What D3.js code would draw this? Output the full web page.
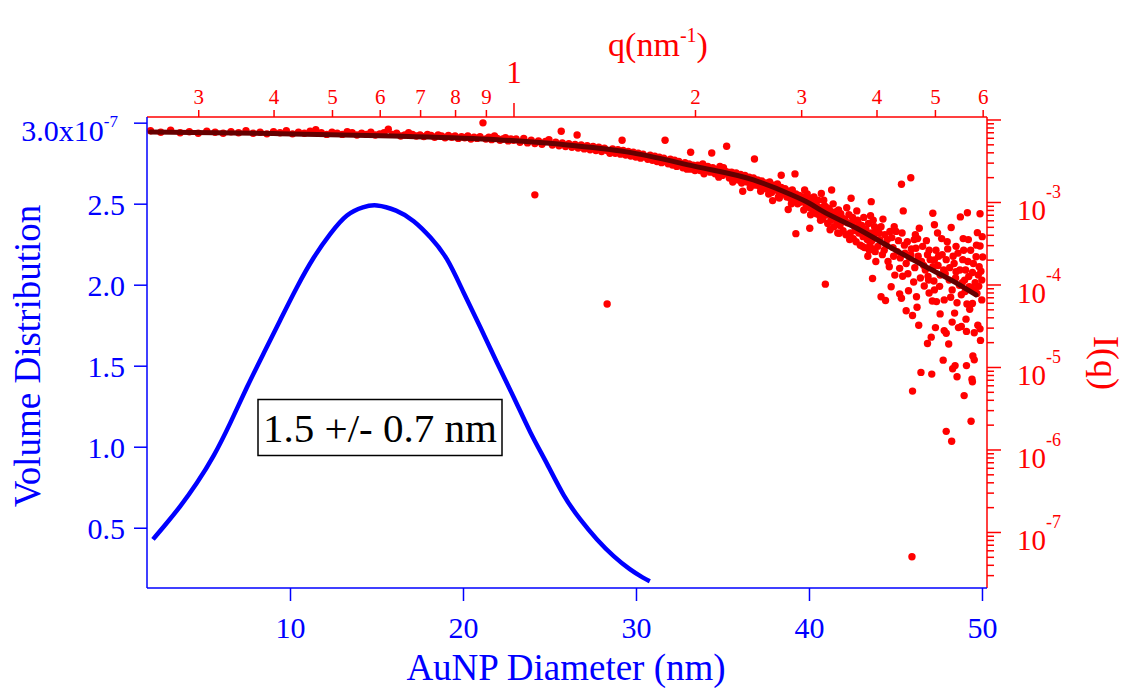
<!DOCTYPE html>
<html>
<head>
<meta charset="utf-8">
<script src="https://cdn.jsdelivr.net/npm/d3@7"></script>
<style>
  body { margin: 0; background: #fff; }
  svg { display: block; font-family: "Liberation Serif", "Times New Roman", serif; }
</style>
</head>
<body>
<svg id="chart"></svg>
<script>
// Size distribution (bottom / left axes)
const diameter = [2.08, 2.70, 3.66, 4.62, 5.59, 6.55, 7.51, 8.48, 9.44, 10.40, 11.37, 12.33, 13.29, 14.26, 14.93,
    16.18, 17.15, 18.11, 19.08, 20.04, 21.0, 21.97, 22.93, 23.89, 24.86, 25.82, 26.78, 27.75, 28.71, 29.67, 30.45, 30.8];
const volume = [0.428e-7, 0.506e-7, 0.630e-7, 0.774e-7, 0.938e-7, 1.144e-7, 1.370e-7, 1.577e-7, 1.782e-7, 1.988e-7,
    2.173e-7, 2.317e-7, 2.441e-7, 2.481e-7, 2.498e-7, 2.461e-7, 2.399e-7, 2.296e-7, 2.173e-7, 1.947e-7, 1.741e-7,
    1.515e-7, 1.309e-7, 1.083e-7, 0.898e-7, 0.691e-7, 0.548e-7, 0.424e-7, 0.321e-7, 0.239e-7, 0.188e-7, 0.17e-7];

// Scattering data I(q) (top / right axes), [q in nm^-1, I]
const sasData = [
  [0.25,7.3e-3],[0.26,7.0e-3],[0.27,7.4e-3],[0.28,6.9e-3],[0.29,7.1e-3],[0.30,6.8e-3],[0.31,7.2e-3],[0.32,7.0e-3],[0.33,6.8e-3],[0.34,7.1e-3],
  [0.35,6.9e-3],[0.36,7.3e-3],[0.37,6.8e-3],[0.38,7.0e-3],[0.39,6.7e-3],[0.40,7.1e-3],[0.41,6.9e-3],[0.42,7.3e-3],[0.43,6.7e-3],[0.44,7.0e-3],
  [0.45,6.8e-3],[0.46,7.2e-3],[0.47,7.5e-3],[0.48,6.9e-3],[0.49,6.6e-3],[0.50,7.0e-3],[0.51,6.8e-3],[0.52,6.6e-3],[0.53,7.1e-3],[0.54,6.9e-3],
  [0.55,6.5e-3],[0.56,6.8e-3],[0.57,6.6e-3],[0.58,7.0e-3],[0.59,6.5e-3],[0.60,6.7e-3],[0.61,6.9e-3],[0.62,7.6e-3],[0.63,6.6e-3],[0.64,6.8e-3],
  [0.65,6.3e-3],[0.66,6.5e-3],[0.67,6.9e-3],[0.68,6.6e-3],[0.69,6.3e-3],[0.70,6.5e-3],[0.71,6.2e-3],[0.72,6.6e-3],[0.73,6.4e-3],[0.74,6.1e-3],
  [0.75,6.5e-3],[0.76,6.3e-3],[0.77,6.0e-3],[0.78,6.4e-3],[0.79,6.1e-3],[0.80,6.3e-3],[0.81,5.9e-3],[0.82,6.2e-3],[0.83,6.0e-3],[0.84,6.3e-3],
  [0.85,5.8e-3],[0.86,6.1e-3],[0.87,5.9e-3],[0.88,6.2e-3],[0.89,9.1e-3],[0.90,5.8e-3],[0.91,6.1e-3],[0.92,5.7e-3],[0.93,6.3e-3],[0.94,5.9e-3],
  [0.95,5.6e-3],[0.96,5.8e-3],[0.97,6.0e-3],[0.98,5.5e-3],[0.99,5.8e-3],[1.00,5.6e-3],
  [1.01,5.8e-3],[1.025,5.3e-3],[1.04,5.9e-3],[1.055,5.2e-3],[1.07,5.6e-3],[1.085,5.1e-3],[1.085,1.22e-3],[1.10,5.5e-3],[1.115,5.0e-3],[1.13,5.4e-3],
  [1.145,5.7e-3],[1.16,4.9e-3],[1.175,5.3e-3],[1.19,4.8e-3],[1.20,7.2e-3],[1.205,5.2e-3],[1.22,4.7e-3],[1.235,5.1e-3],[1.25,4.6e-3],[1.265,5.0e-3],
  [1.275,6.5e-3],[1.28,4.5e-3],[1.295,4.9e-3],[1.31,4.4e-3],[1.325,4.8e-3],[1.34,4.3e-3],[1.355,4.7e-3],[1.37,4.2e-3],[1.385,4.6e-3],[1.40,4.1e-3],
  [1.415,4.5e-3],[1.43,5.8e-5],[1.43,4.2e-3],[1.445,3.9e-3],[1.46,4.4e-3],[1.475,3.9e-3],[1.49,4.3e-3],[1.505,3.8e-3],[1.514,5.6e-3],[1.52,4.2e-3],
  [1.535,3.7e-3],[1.55,4.1e-3],[1.565,3.6e-3],[1.58,4.0e-3],[1.595,3.5e-3],[1.61,3.9e-3],[1.625,3.4e-3],[1.64,3.8e-3],[1.655,3.5e-3],[1.67,3.3e-3],
  [1.685,3.7e-3],[1.70,3.2e-3],[1.715,3.6e-3],[1.73,3.1e-3],[1.745,3.5e-3],[1.76,3.0e-3],[1.775,3.4e-3],[1.784,5.6e-3],[1.79,3.1e-3],[1.805,2.9e-3],
  [1.82,3.3e-3],[1.835,2.8e-3],[1.85,3.2e-3],[1.865,2.7e-3],[1.88,3.1e-3],[1.895,2.8e-3],[1.91,2.6e-3],[1.925,3.0e-3],[1.94,2.5e-3],[1.955,2.9e-3],
  [1.967,4.0e-3],[1.97,2.5e-3],[1.985,2.8e-3],[2.00,2.4e-3],
  [2.02,2.8e-3],[2.04,2.4e-3],[2.06,2.9e-3],[2.08,2.5e-3],[2.10,2.7e-3],[2.12,2.3e-3],[2.132,3.93e-3],[2.14,2.6e-3],[2.16,2.2e-3],[2.18,2.5e-3],
  [2.20,2.7e-3],[2.22,2.1e-3],[2.24,2.4e-3],[2.257,4.73e-3],[2.26,2.2e-3],[2.28,1.95e-3],[2.30,2.3e-3],[2.32,2.0e-3],[2.34,2.25e-3],[2.36,1.85e-3],
  [2.38,2.15e-3],[2.40,1.35e-3],[2.40,1.9e-3],[2.42,2.1e-3],[2.44,1.75e-3],[2.46,2.0e-3],[2.48,1.7e-3],[2.50,1.95e-3],[2.51,3.32e-3],[2.52,1.6e-3],
  [2.54,1.85e-3],[2.56,1.55e-3],[2.58,1.8e-3],[2.60,1.45e-3],[2.62,1.7e-3],[2.64,1.5e-3],[2.66,1.75e-3],[2.68,1.3e-3],[2.69,1.04e-3],[2.70,1.6e-3],
  [2.72,1.4e-3],[2.74,1.65e-3],[2.76,1.12e-3],[2.76,1.3e-3],[2.78,2.11e-3],[2.78,1.5e-3],[2.80,1.25e-3],[2.82,1.45e-3],[2.84,1.15e-3],[2.855,8.1e-4],
  [2.86,1.35e-3],[2.88,1.1e-3],[2.90,1.4e-3],[2.92,1.05e-3],[2.93,2.19e-3],[2.94,4.13e-4],[2.94,1.25e-3],[2.96,9.5e-4],[2.98,1.2e-3],[3.00,1.0e-3],
  [2.03,2.55e-3],[2.07,2.2e-3],[2.11,2.55e-3],[2.15,2.35e-3],[2.19,2.0e-3],[2.23,2.6e-3],[2.27,2.3e-3],[2.31,1.75e-3],[2.35,2.05e-3],[2.39,1.7e-3],
  [2.43,1.9e-3],[2.47,1.5e-3],[2.53,1.75e-3],[2.57,1.35e-3],[2.61,1.55e-3],[2.65,1.25e-3],[2.71,1.45e-3],[2.75,1.15e-3],[2.83,1.3e-3],[2.89,9.5e-4],
  [2.97,1.1e-3],
  [3.02,1.15e-3],[3.04,1.40e-3],[3.06,9.0e-4],[3.08,1.05e-3],[3.10,4.8e-4],[3.10,8.5e-4],[3.12,1.1e-3],[3.14,8.0e-4],[3.16,9.5e-4],[3.18,7.2e-4],
  [3.20,1.05e-3],[3.22,6.8e-4],[3.24,1.27e-3],[3.24,8.5e-4],[3.26,6.2e-4],[3.28,9.0e-4],[3.29,1.01e-4],[3.30,7.0e-4],[3.32,5.5e-4],[3.34,8.2e-4],
  [3.36,6.0e-4],[3.37,1.40e-3],[3.38,7.5e-4],[3.40,5.0e-4],[3.42,6.8e-4],[3.44,5.8e-4],[3.46,8.0e-4],[3.47,4.17e-4],[3.48,5.2e-4],[3.50,6.5e-4],
  [3.52,4.5e-4],[3.54,6.2e-4],[3.56,4.0e-4],[3.58,5.6e-4],[3.60,7.0e-4],[3.62,4.2e-4],[3.63,1.11e-3],[3.64,5.5e-4],[3.66,3.6e-4],[3.68,5.0e-4],
  [3.70,3.3e-4],[3.72,6.0e-4],[3.74,4.2e-4],[3.76,3.0e-4],[3.78,5.2e-4],[3.80,3.8e-4],[3.82,2.8e-4],[3.84,4.7e-4],[3.86,3.5e-4],[3.87,2.2e-4],
  [3.88,5.5e-4],[3.90,3.0e-4],[3.92,1.01e-3],[3.92,4.2e-4],[3.94,1.18e-4],[3.94,2.7e-4],[3.95,6.0e-4],[3.96,3.8e-4],[3.98,2.5e-4],[4.00,4.5e-4],
  [3.03,8.0e-4],[3.07,1.25e-3],[3.11,7.0e-4],[3.15,1.15e-3],[3.19,8.8e-4],[3.23,6.0e-4],[3.27,1.05e-3],[3.31,8.5e-4],[3.35,4.6e-4],[3.39,9.5e-4],
  [3.43,7.6e-4],[3.45,4.2e-4],[3.49,7.2e-4],[3.53,5.8e-4],[3.57,8.5e-4],[3.61,3.5e-4],[3.65,6.5e-4],[3.69,4.5e-4],[3.71,7.8e-4],[3.75,5.3e-4],
  [3.79,2.9e-4],[3.81,6.5e-4],[3.85,4.0e-4],[3.89,2.6e-4],[3.91,6.8e-4],[3.93,3.4e-4],[3.97,5.0e-4],[3.99,1.9e-4],
  [4.05,3.5e-4],[4.07,7.1e-5],[4.07,5.0e-4],[4.12,2.6e-4],[4.13,4.0e-4],[4.14,6.4e-5],[4.15,3.0e-4],[4.20,1.64e-4],[4.23,9.4e-5],[4.24,3.7e-4],
  [4.27,2.2e-4],[4.28,5.0e-4],[4.31,4.4e-4],[4.33,2.5e-4],[4.37,1.57e-4],[4.37,7.7e-5],[4.40,1.64e-3],[4.40,6.8e-5],[4.42,1.26e-4],[4.43,7.8e-4],
  [4.45,3.0e-4],[4.48,1.8e-4],[4.48,4.8e-5],[4.52,8.4e-5],[4.54,2.1e-4],[4.56,1.97e-3],[4.56,2.3e-4],[4.58,5.0e-8],[4.59,5.1e-6],[4.59,4.2e-5],
  [4.61,1.07e-4],[4.62,3.5e-4],[4.65,2.75e-4],[4.66,7.1e-5],[4.67,5.3e-5],[4.68,3.6e-4],[4.70,3.2e-5],[4.71,4.8e-4],[4.74,8.6e-6],[4.75,1.9e-4],
  [4.80,9.6e-5],[4.82,1.5e-4],[4.86,2.3e-4],[4.86,1.93e-5],[4.88,1.13e-4],[4.89,7.9e-5],[4.89,2.6e-4],[4.93,2.3e-5],[4.94,8.2e-6],[4.95,6.3e-5],
  [4.96,7.3e-4],[4.96,1.64e-4],[4.99,5.3e-4],[4.99,8.6e-5],[4.99,1.98e-4],[5.01,3.0e-5],[5.03,6.2e-5],[5.05,4.2e-4],[5.07,2.2e-4],[5.10,1.3e-4],
  [5.10,4.4e-5],[5.13,3.6e-4],[5.16,1.21e-5],[5.17,1.5e-4],[5.18,2.76e-5],[5.18,6.5e-5],[5.22,2.0e-4],[5.22,1.66e-6],[5.22,2.56e-5],[5.25,2.7e-4],
  [5.27,1.9e-5],[5.28,1.13e-4],[5.32,4.9e-4],[5.33,1.26e-6],[5.34,3.5e-5],[5.34,8.6e-5],[5.35,9.5e-6],[5.38,1.8e-4],[5.39,4.5e-5],[5.40,1.04e-5],
  [5.42,2.9e-4],[5.42,1.43e-4],[5.44,7.6e-6],[5.44,6.0e-5],[5.47,3.0e-5],[5.49,9.8e-5],[5.51,6.6e-4],[5.53,3.1e-5],[5.53,7.5e-5],[5.56,2.0e-4],
  [5.58,2.6e-4],[5.59,4.5e-6],[5.60,1.13e-4],[5.62,1.5e-4],[5.63,3.8e-5],[5.64,1.04e-5],[5.64,2.7e-5],[5.65,5.8e-5],[5.66,7.4e-4],[5.68,3.5e-4],
  [5.70,9.4e-5],[5.71,5.0e-5],[5.74,2.2e-6],[5.76,7.1e-6],[5.77,6.6e-6],[5.77,1.4e-4],[5.77,5.9e-5],[5.78,1.36e-5],[5.81,1.22e-5],[5.81,2.6e-5],
  [5.81,8.6e-5],[5.85,2.17e-4],[5.87,7.8e-5],[5.88,4.25e-4],[5.89,3.2e-5],[5.90,1.3e-4],[5.92,1.64e-4],[5.94,7.2e-4],[5.94,2.93e-4],[5.94,2.9e-5],
  [5.95,2.1e-5],[5.98,6.5e-5],[5.98,1.13e-4],[6.00,2.15e-4],
  [4.02,2.9e-4],[4.04,4.2e-4],[4.09,2.3e-4],[4.10,6.2e-4],[4.17,3.5e-4],[4.18,1.9e-4],[4.21,4.4e-4],[4.26,2.8e-4],[4.29,1.3e-4],[4.35,3.4e-4],
  [4.38,2.1e-4],[4.41,4.2e-4],[4.46,2.4e-4],[4.50,3.3e-4],[4.51,1.35e-4],[4.57,2.7e-4],[4.63,1.6e-4],[4.64,4.0e-4],[4.69,2.2e-4],[4.73,1.2e-4],
  [4.77,2.9e-4],[4.79,1.7e-4],[4.84,3.4e-4],[4.87,1.25e-4],[4.91,2.0e-4],[4.98,1.1e-4],[5.02,2.6e-4],[5.06,1.7e-4],[5.09,9.5e-5],[5.14,2.3e-4],
  [5.20,1.35e-4],[5.24,3.3e-4],[5.29,1.6e-4],[5.31,7.0e-5],[5.36,2.2e-4],[5.41,1.2e-4],[5.46,2.4e-4],[5.50,1.5e-4],[5.55,1.05e-4],[5.57,3.6e-4],
  [5.61,8.2e-5],[5.67,1.9e-4],[5.69,1.25e-4],[5.73,2.6e-4],[5.75,9.0e-5],[5.79,1.8e-4],[5.83,1.05e-4],[5.86,3.0e-4],[5.91,9.5e-5],[5.96,1.45e-4],
  [5.99,3.8e-4]
];

// Model fit through the scattering data
const fitQ = [0.25, 0.40, 0.63, 0.94, 1.2, 1.54, 2.0, 2.5, 2.87, 3.1, 3.26, 3.71, 4.2, 4.77, 5.43, 5.85];
const fitI = [7.05e-3, 6.75e-3, 6.3e-3, 5.7e-3, 5.0e-3, 4.05e-3, 2.7e-3, 1.85e-3, 1.25e-3, 9.6e-4, 7.7e-4, 4.8e-4, 2.87e-4, 1.72e-4, 1.04e-4, 7.46e-5];

// Ticks
const diameterTicks = [10, 20, 30, 40, 50];
const volumeTicks = [0.5e-7, 1.0e-7, 1.5e-7, 2.0e-7, 2.5e-7, 3.0e-7];
const qMinorTicks = [0.3, 0.4, 0.5, 0.6, 0.7, 0.8, 0.9, 2, 3, 4, 5, 6];
const qMajorTicks = [1];
const iMajorTicks = [1e-7, 1e-6, 1e-5, 1e-4, 1e-3, 1e-2];
const iLabels = ["-7", "-6", "-5", "-4", "-3", ""];
const legendText = "1.5 +/- 0.7 nm";

const width = 1126;
const height = 688;
const mLeft = 147, mRight = 987, mTop = 117, mBottom = 588;
const blue = "#0000ff";
const red = "#ff0000";
const serif = '"Liberation Serif", "Times New Roman", serif';

const x = d3.scaleLinear().domain([1.734, 50.29]).range([mLeft, mRight]);
const y = d3.scaleLinear().domain([0.128e-7, 3.035e-7]).range([mBottom, mTop]);
const xq = d3.scaleLog().domain([0.2467, 6.10]).range([mLeft, mRight]);
const yi = d3.scaleLog().domain([2.094e-8, 1.072e-2]).range([mBottom, mTop]);

const svg = d3.select("#chart")
    .attr("width", width)
    .attr("height", height);

// Style helper for axis groups
function styleAxis(g, color, size) {
  g.attr("font-family", serif).attr("font-size", size);
  g.select(".domain").remove();
  g.selectAll(".tick line").attr("stroke", color).attr("stroke-width", 1.5);
  g.selectAll(".tick text").attr("fill", color);
}

// Scatter points
svg.append("g")
    .selectAll("circle")
    .data(sasData)
    .join("circle")
    .attr("cx", d => xq(d[0]))
    .attr("cy", d => yi(d[1]))
    .attr("r", 3.7)
    .attr("fill", red);

// Fit line
svg.append("path")
    .datum(fitQ.map((q, i) => [q, fitI[i]]))
    .attr("fill", "none")
    .attr("stroke", "#650000")
    .attr("stroke-width", 5)
    .attr("stroke-linecap", "round")
    .attr("d", d3.line().x(d => xq(d[0])).y(d => yi(d[1])).curve(d3.curveMonotoneX));

// Volume distribution
svg.append("path")
    .datum(diameter.map((d, i) => [d, volume[i]]))
    .attr("fill", "none")
    .attr("stroke", blue)
    .attr("stroke-width", 4.5)
    .attr("d", d3.line().x(d => x(d[0])).y(d => y(d[1])).curve(d3.curveBasis));

// Frame
svg.append("line").attr("x1", mLeft).attr("x2", mRight).attr("y1", mTop).attr("y2", mTop)
    .attr("stroke", red).attr("stroke-width", 1.5);
svg.append("line").attr("x1", mRight).attr("x2", mRight).attr("y1", mTop).attr("y2", mBottom)
    .attr("stroke", red).attr("stroke-width", 1.5);
svg.append("line").attr("x1", mLeft).attr("x2", mRight).attr("y1", mBottom).attr("y2", mBottom)
    .attr("stroke", blue).attr("stroke-width", 1.5);
svg.append("line").attr("x1", mLeft).attr("x2", mLeft).attr("y1", mTop).attr("y2", mBottom)
    .attr("stroke", blue).attr("stroke-width", 1.5);

// Bottom axis
svg.append("g")
    .attr("transform", `translate(0,${mBottom})`)
    .call(d3.axisBottom(x).tickValues(diameterTicks).tickSize(13).tickPadding(16))
    .call(g => styleAxis(g, blue, 30));

// Left axis
const leftAxis = svg.append("g")
    .attr("transform", `translate(${mLeft},0)`)
    .call(d3.axisLeft(y).tickValues(volumeTicks).tickSize(13).tickPadding(9)
        .tickFormat(d => (d / 1e-7).toFixed(1)))
    .call(g => styleAxis(g, blue, 30));
leftAxis.selectAll(".tick text").attr("dy", "0.37em");
leftAxis.selectAll(".tick").filter(d => d === 3.0e-7).select("text")
    .attr("x", -29)
    .attr("dy", 18)
    .text("3.0x10")
    .append("tspan")
    .attr("dy", -14)
    .attr("font-size", 17)
    .text("-7");

// Top axis (q)
svg.append("g")
    .attr("transform", `translate(0,${mTop})`)
    .call(d3.axisTop(xq).tickValues(qMinorTicks).tickSize(7).tickPadding(6.5)
        .tickFormat(d => d < 1 ? Math.round(d * 10) : d))
    .call(g => styleAxis(g, red, 21));
svg.append("g")
    .attr("transform", `translate(0,${mTop})`)
    .call(d3.axisTop(xq).tickValues(qMajorTicks).tickSize(14).tickPadding(20).tickFormat(d => d))
    .call(g => styleAxis(g, red, 31));

// Right axis (I)
svg.append("g")
    .attr("transform", `translate(${mRight},0)`)
    .call(d3.axisRight(yi).tickValues(yi.ticks().filter(d => !iMajorTicks.some(m => Math.abs(d / m - 1) < 1e-6)))
        .tickSize(7).tickFormat(""))
    .call(g => styleAxis(g, red, 20));
const rightAxis = svg.append("g")
    .attr("transform", `translate(${mRight},0)`)
    .call(d3.axisRight(yi).tickValues(iMajorTicks).tickSize(14).tickPadding(16).tickFormat(""))
    .call(g => styleAxis(g, red, 29));
rightAxis.selectAll(".tick text")
    .attr("dy", 18)
    .each(function (d, i) {
      if (!iLabels[i]) return;
      const t = d3.select(this);
      t.text("10");
      t.append("tspan").attr("dy", -22).attr("font-size", 18).text(iLabels[i]);
    });

// Axis titles
svg.append("text")
    .attr("transform", "translate(40,356) rotate(-90)")
    .attr("text-anchor", "middle")
    .attr("font-family", serif)
    .attr("font-size", 37)
    .attr("fill", blue)
    .text("Volume Distribution");

svg.append("text")
    .attr("x", 566)
    .attr("y", 680)
    .attr("text-anchor", "middle")
    .attr("font-family", serif)
    .attr("font-size", 37)
    .attr("fill", blue)
    .text("AuNP Diameter (nm)");

const qTitle = svg.append("text")
    .attr("x", 658)
    .attr("y", 56)
    .attr("text-anchor", "middle")
    .attr("font-family", serif)
    .attr("font-size", 34)
    .attr("fill", red)
    .text("q(nm");
qTitle.append("tspan").attr("dy", -14).attr("font-size", 20).text("-1");
qTitle.append("tspan").attr("dy", 14).text(")");

svg.append("text")
    .attr("transform", "translate(1094,363) rotate(90)")
    .attr("text-anchor", "middle")
    .attr("font-family", serif)
    .attr("font-size", 36)
    .attr("fill", red)
    .text("I(q)");

// Annotation box
svg.append("rect")
    .attr("x", 258)
    .attr("y", 399.5)
    .attr("width", 244)
    .attr("height", 56)
    .attr("fill", "#fff")
    .attr("stroke", "#000")
    .attr("stroke-width", 1.5);
svg.append("text")
    .attr("x", 380)
    .attr("y", 442)
    .attr("text-anchor", "middle")
    .attr("font-family", serif)
    .attr("font-size", 41)
    .attr("fill", "#000")
    .text(legendText);
</script>
</body>
</html>
